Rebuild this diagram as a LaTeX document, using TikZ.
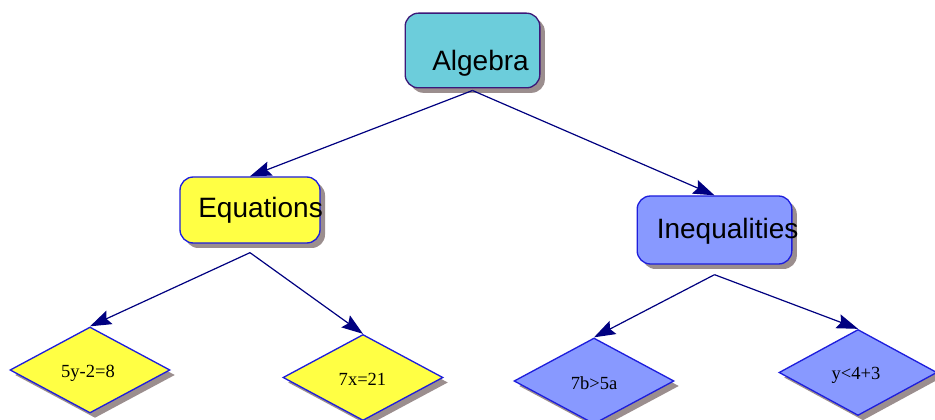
\documentclass[tikz,border=0pt]{standalone}
\usepackage{fontspec}
\setmainfont{Liberation Serif}
\setsansfont{Liberation Sans}
\usepackage{xcolor}
\usepackage{tikz}
\usetikzlibrary{arrows.meta,shapes.geometric,shadows}

\definecolor{algcyan}{RGB}{108,205,219}
\definecolor{eqyellow}{RGB}{255,255,68}
\definecolor{ineqblue}{RGB}{136,153,255}
\definecolor{rimpurple}{RGB}{60,25,120}
\definecolor{rimblue}{RGB}{30,30,220}
\definecolor{edgenavy}{RGB}{0,0,128}
\definecolor{shadegray}{RGB}{155,142,142}

\begin{document}
\begin{tikzpicture}[x=0.75pt,y=-0.75pt,
  topicbox/.style={draw=rimblue,line width=1pt,rounded corners=10pt,inner sep=0pt,
    drop shadow={shadow xshift=3.75pt,shadow yshift=-3.75pt,fill=shadegray,opacity=1}},
  leafbox/.style={diamond,draw=rimblue,line width=1pt,inner sep=0pt,
    minimum width=120pt,minimum height=64.5pt,
    drop shadow={shadow xshift=3.75pt,shadow yshift=-3.75pt,fill=shadegray,opacity=1}},
  topictext/.style={font=\sffamily\fontsize{21}{21}\selectfont,inner sep=0pt,anchor=base west},
  leaftext/.style={font=\fontsize{13.9}{14}\selectfont,inner sep=0pt,anchor=base},
  link/.style={draw=edgenavy,line width=0.9pt,-{Stealth[length=16pt,width=11pt,inset=2.5pt]}}]
\useasboundingbox (0,0) rectangle (935,420);

\node[topicbox,draw=rimpurple,fill=algcyan,minimum width=101pt,minimum height=56pt] (alg) at (472.5,50.5) {};
\node[topicbox,fill=eqyellow,minimum width=105pt,minimum height=49.5pt] (eq) at (250,210) {};
\node[topicbox,fill=ineqblue,minimum width=116pt,minimum height=51pt] (ineq) at (714.5,230) {};

\node[topictext] (algtext) at (432,70.7) {Algebra};
\node[topictext] (eqtext) at (198,217.7) {Equations};
\node[topictext] (ineqtext) at (656.5,239) {Inequalities};

\node[leafbox,fill=eqyellow] (lin) at (90,370) {};
\node[leafbox,fill=eqyellow] (mult) at (363,377.5) {};
\node[leafbox,fill=ineqblue] (cmp) at (594,381) {};
\node[leafbox,fill=ineqblue,minimum width=118.5pt] (sum) at (858,372.5) {};

\node[leaftext] (lintext) at (88,377) {5y-2=8};
\node[leaftext] (multtext) at (362.5,385) {7x=21};
\node[leaftext] (cmptext) at (594,389) {7b>5a};
\node[leaftext] (sumtext) at (856,379) {y<4+3};

\foreach \a/\b/\s in {alg/eq/2, alg/ineq/2, eq/lin/9, eq/mult/9, ineq/cmp/10, ineq/sum/10}
  \draw[link] ([yshift=-\s*0.75pt]\a.south) -- (\b.north);
\end{tikzpicture}
\end{document}
